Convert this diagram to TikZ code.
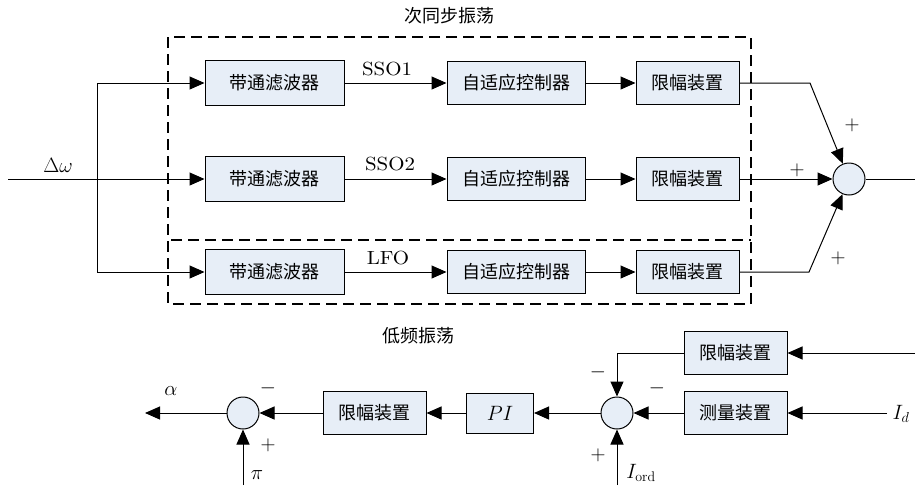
\documentclass[tikz,border=0pt]{standalone}
\usepackage{fontspec}
\newfontfamily\cjk{Noto Sans CJK SC}
\newfontfamily\lmten{lmroman10-regular.otf}
\usetikzlibrary{arrows.meta}
\definecolor{boxfill}{RGB}{231,238,247}
\newcommand\widelbl[1]{\scalebox{1.1}[1]{\lmten\fontsize{19}{22}\selectfont #1}}
\begin{document}
\begin{tikzpicture}[x=1pt,y=-1pt,
  every node/.style={font=\fontsize{20}{23}\selectfont},
  blk/.style={draw,line width=1pt,fill=boxfill,inner sep=0pt,font=\cjk\fontsize{18}{21}\selectfont},
  bpbox/.style={blk,minimum width=139pt,minimum height=45pt},
  acbox/.style={blk,minimum width=138pt,minimum height=43pt},
  limbox/.style={blk,minimum width=103pt,minimum height=43pt},
  sumc/.style={draw,line width=1pt,fill=boxfill,circle,minimum size=32pt,inner sep=0pt},
  conn/.style={line width=1pt},
  arr/.style={conn,-{Triangle[length=15pt,width=13pt]}},
  dashbox/.style={line width=1.6pt,dash pattern=on 11pt off 6pt},
  ttl/.style={font=\cjk\fontsize{18}{20}\selectfont},
  sgn/.style={font=\fontsize{21}{23}\selectfont}
]
\useasboundingbox (0,0) rectangle (915,485);

% titles
\node[ttl] (t1) at (449,16) {次同步振荡};
\node[ttl] (t2) at (418,336) {低频振荡};

% dashed frames
\draw[dashbox] (168,37) rectangle (751,304);
\draw[dashbox] (171,240) -- (751,240);

% row 1
\node[bpbox] (bp1) at (274.5,83) {带通滤波器};
\node[acbox] (ac1) at (516,83) {自适应控制器};
\node[limbox] (lim1) at (687.5,83) {限幅装置};
% row 2
\node[bpbox] (bp2) at (274.5,179) {带通滤波器};
\node[acbox] (ac2) at (516,179) {自适应控制器};
\node[limbox] (lim2) at (687.5,179) {限幅装置};
% row 3
\node[bpbox] (bp3) at (274.5,272) {带通滤波器};
\node[acbox] (ac3) at (516,272) {自适应控制器};
\node[limbox] (lim3) at (687.5,272) {限幅装置};

\node[sumc] (s1) at (849,179) {};

% input
\coordinate (in) at (8,179);
\coordinate (br) at (97,179);
\node (dw) at (58,165) {$\Delta\omega$};
\draw[arr] (in) -- (bp2.west);
\draw[arr] (br) |- (bp1.west);
\draw[arr] (br) |- (bp3.west);

% row connections
\draw[arr] (bp1.east) -- (ac1.west);
\draw[arr] (ac1.east) -- (lim1.west);
\draw[arr] (bp2.east) -- (ac2.west);
\draw[arr] (ac2.east) -- (lim2.west);
\draw[arr] (bp3.east) -- (ac3.west);
\draw[arr] (ac3.east) -- (lim3.west);
\node (l1) at (387,69) {\widelbl{SSO1}};
\node (l2) at (390,164) {\widelbl{SSO2}};
\node (l3) at (388,258) {\widelbl{LFO}};

% to summing junction
\coordinate (k1) at (810,83);
\coordinate (k3) at (809,272);
\coordinate (out) at (915,179);
\draw[arr] (lim1.east) -- (k1) -- (s1);
\draw[arr] (lim2.east) -- (s1.west);
\draw[arr] (lim3.east) -- (k3) -- (s1);
\draw[conn] (s1.east) -- (out);
\node[sgn] (p1) at (852,125) {$+$};
\node[sgn] (p2) at (797,170) {$+$};
\node[sgn] (p3) at (838,258) {$+$};

% bottom part
\node[sumc] (s2) at (243,413) {};
\node[limbox] (blim) at (374.5,413) {限幅装置};
\node[blk,minimum width=67pt,minimum height=40pt,font=\fontsize{20}{22}\selectfont] (pi) at (500,413) {$PI$};
\node[sumc] (s3) at (617,413) {};
\node[limbox] (meas) at (735.5,413) {测量装置};
\node[limbox] (ulim) at (735.5,353) {限幅装置};

\coordinate (aend) at (145,413);
\coordinate (pist) at (243,485);
\coordinate (iost) at (617,485);
\coordinate (idst) at (887,413);
\coordinate (trst) at (915,353);

\draw[arr] (s3.west) -- (pi.east);
\draw[arr] (pi.west) -- (blim.east);
\draw[arr] (blim.west) -- (s2.east);
\draw[arr] (s2.west) -- (aend);
\draw[arr] (pist) -- (s2.south);
\draw[arr] (iost) -- (s3.south);
\draw[arr] (idst) -- (meas.east);
\draw[arr] (meas.west) -- (s3.east);
\draw[arr] (trst) -- (ulim.east);
\draw[arr] (ulim.west) -| (s3.north);

\node (al) at (171,391) {$\alpha$};
\node[sgn] (m1) at (268,388) {$-$};
\node[sgn] (pp1) at (268,445) {$+$};
\node (pis) at (257,475) {$\pi$};
\node[sgn] (m2) at (657,388) {$-$};
\node[sgn] (m3) at (598,372) {$-$};
\node[sgn] (pp2) at (598,455) {$+$};
\node (io) at (641,473) {$I_{\mathrm{ord}}$};
\node (id) at (901,414) {$I_d$};
\end{tikzpicture}
\end{document}
